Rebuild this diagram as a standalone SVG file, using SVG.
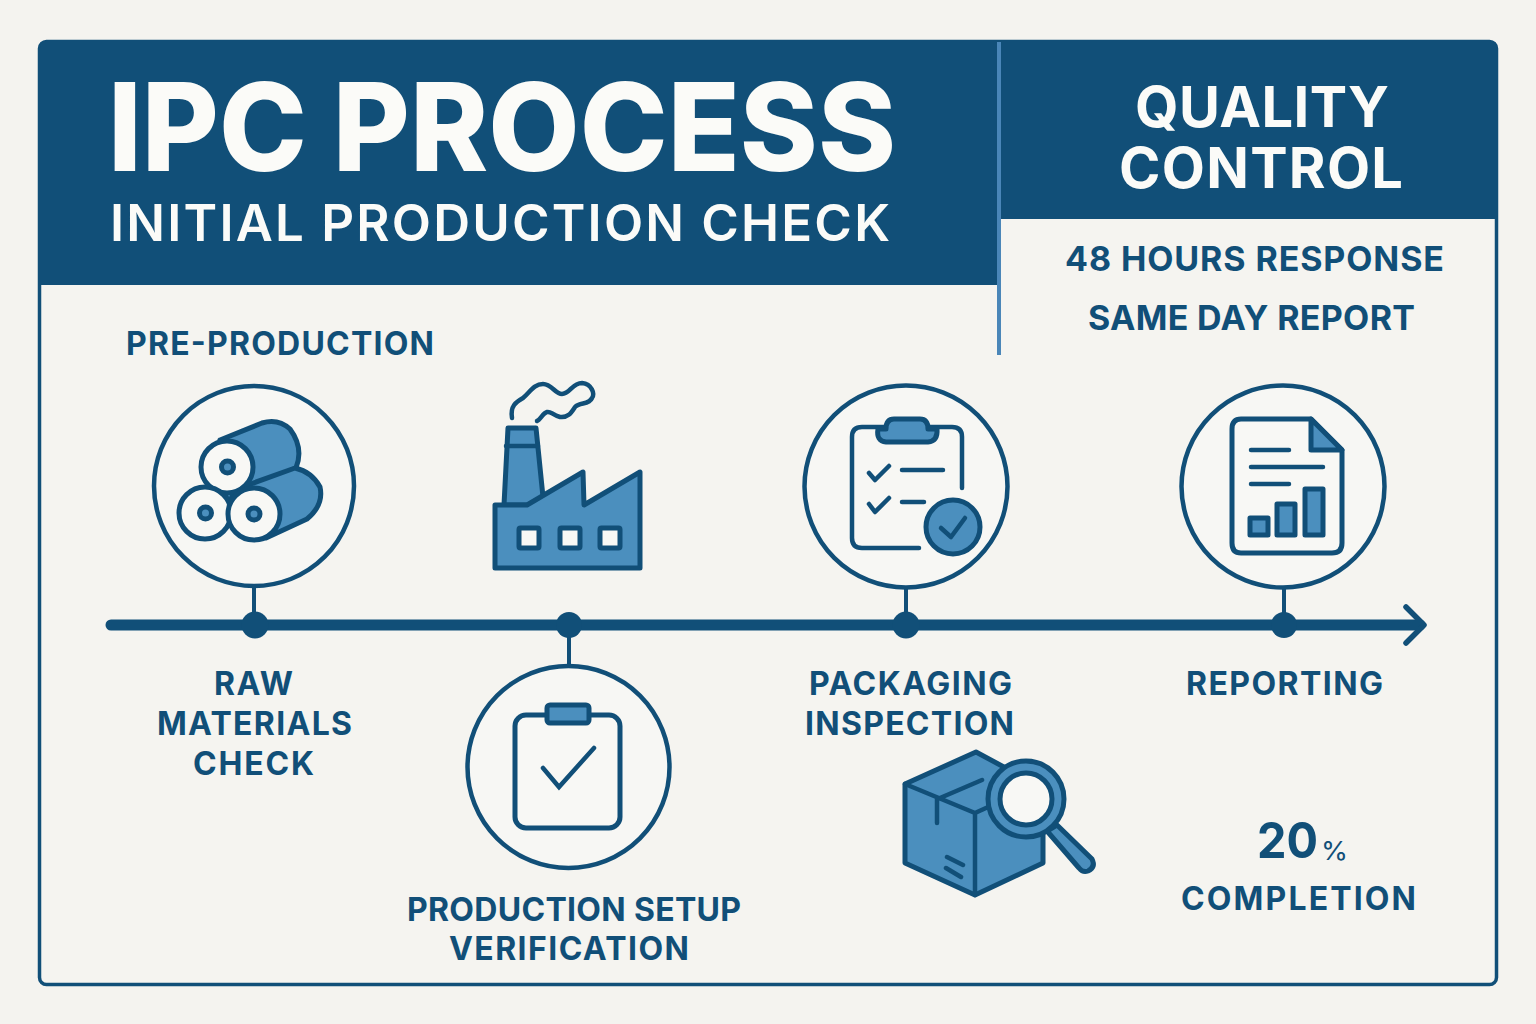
<svg xmlns="http://www.w3.org/2000/svg" width="1536" height="1024" viewBox="0 0 1536 1024">
<style>
.t{font-family:Inter,"Liberation Sans",sans-serif;font-weight:700;fill:#114f78}
.w{fill:#fbfbf8}
.x{font-weight:800}
.s{font-weight:600}
.r{font-weight:400}
.ln{fill:none;stroke:#114f78;stroke-width:4.500;stroke-linecap:round;stroke-linejoin:round}
.ic{fill:#4b8fbe;stroke:#114f78;stroke-width:5;stroke-linejoin:round;stroke-linecap:round}
.wh{fill:#f8f8f5;stroke:#114f78;stroke-width:5;stroke-linejoin:round;stroke-linecap:round}
.o{fill:#f7f7f4;stroke:#114f78;stroke-width:4.500}
</style>
<rect width="1536" height="1024" fill="#f4f3ef"/>
<g id="frame">
<rect x="39.500" y="41.500" width="1457" height="943" rx="7" fill="#f5f4f0" stroke="#114f78" stroke-width="3.500"/>
<path d="M46 41H997V285H40V48Q40 41 46 41Z" fill="#114f78"/>
<path d="M1001 41H1490Q1497 41 1497 48V219H1001Z" fill="#114f78"/>
<path d="M999 42V355" stroke="#4a86b8" stroke-width="4" fill="none"/>
</g>
<g id="header">
<text class="t w x" x="108" y="171" font-size="122" textLength="788" lengthAdjust="spacingAndGlyphs">IPC PROCESS</text>
<text class="t w s" x="110" y="241" font-size="51" textLength="780">INITIAL PRODUCTION CHECK</text>
<text class="t w" x="1135" y="127" font-size="56" textLength="254">QUALITY</text>
<text class="t w" x="1119" y="188" font-size="56" textLength="284">CONTROL</text>
</g>
<g id="stats">
<text class="t" x="1065" y="271" font-size="34" textLength="379">48 HOURS RESPONSE</text>
<text class="t" x="1088" y="330" font-size="34" textLength="327">SAME DAY REPORT</text>
</g>
<text id="phase" class="t" x="126" y="355" font-size="32" textLength="308">PRE-PRODUCTION</text>
<g id="connectors">
<path d="M111 625H1420" stroke="#114f78" stroke-width="11" stroke-linecap="round" fill="none"/>
<path d="M1406 607L1424 625L1406 643" stroke="#114f78" stroke-width="5.500" stroke-linecap="round" stroke-linejoin="round" fill="none"/>
<path d="M254 585V625M569 625V667M906 585V625M1284 585V625" stroke="#114f78" stroke-width="4" fill="none"/>
<circle cx="255" cy="625" r="13.500" fill="#114f78"/>
<circle cx="569" cy="625" r="13" fill="#114f78"/>
<circle cx="906" cy="625" r="13.500" fill="#114f78"/>
<circle cx="1284" cy="625" r="13" fill="#114f78"/>
</g>
<g id="node-raw">
<circle class="o" cx="254" cy="486" r="100"/>
<path class="ic" d="M220 440L262 423Q278 418 290 429Q304 448 296 468L250 490Z"/>
<path class="ic" d="M245 486L295 468Q312 472 320 487Q324 505 307 519L266 538Z"/>
<path class="ic" d="M222 490L236 490L229 502Z" stroke-width="3"/>
<circle class="wh" cx="227" cy="467" r="26"/>
<circle class="wh" cx="205" cy="513" r="26"/>
<circle class="wh" cx="254" cy="514" r="26"/>
<circle class="ic" cx="227.500" cy="467" r="6" stroke-width="4.500"/>
<circle class="ic" cx="205.500" cy="513" r="6" stroke-width="4.500"/>
<circle class="ic" cx="254" cy="514" r="6" stroke-width="4.500"/>
<text class="t" x="214" y="695" font-size="32" textLength="79">RAW</text>
<text class="t" x="157" y="735" font-size="32" textLength="195">MATERIALS</text>
<text class="t" x="193" y="775" font-size="32" textLength="121">CHECK</text>
</g>
<g id="node-setup">
<path class="ic" d="M508 428H536L543 497V505H504Z"/>
<path class="ic" d="M495 505H527L583 472L584 505L640 472V568H495Z"/>
<path class="ln" d="M506 446H538" stroke-width="5"/>
<path class="ln" d="M512 418C510 406 516 402 523 398C530 392 534 384 543 384C552 384 555 394 562 394C570 394 572 383 582 383C592 384 595 394 592 398C589 405 580 402 575 407C571 413 568 418 560 417C552 415 551 411 547 412C543 413 540 420 537 421"/>
<rect class="wh" x="519" y="528" width="20" height="20" rx="1.500"/>
<rect class="wh" x="560" y="528" width="20" height="20" rx="1.500"/>
<rect class="wh" x="600" y="528" width="20" height="20" rx="1.500"/>
</g>
<g id="node-verify">
<circle class="o" cx="568.500" cy="767" r="101"/>
<rect class="wh" x="515" y="715" width="105" height="113" rx="11" stroke-width="4.500"/>
<rect class="ic" x="547" y="705" width="42" height="18" rx="3" stroke-width="4.500"/>
<path d="M543 768L559 787L594 748" fill="none" stroke="#114f78" stroke-width="4.500" stroke-linecap="round" stroke-linejoin="miter"/>
<text class="t" x="407" y="921" font-size="32" textLength="334">PRODUCTION SETUP</text>
<text class="t" x="449" y="960" font-size="32" textLength="240">VERIFICATION</text>
</g>
<g id="node-packaging">
<ellipse class="o" cx="906" cy="486.500" rx="101.500" ry="101"/>
<path class="ln" d="M919 548H862Q852 548 852 538V437Q852 427 862 427H952Q962 427 962 437V488"/>
<path class="ic" d="M878 429Q876 441 886 442H928Q938 441 937 429L928 429Q928 419 920 419H894Q886 419 886 429Z" stroke-width="4.500"/>
<path class="ln" d="M869 473L875 480L889 466M869 504L875 512L889 498M902 470H943M902 502H924"/>
<ellipse class="ic" cx="953" cy="527" rx="27" ry="27"/>
<path d="M941 528L951 537L965 518" fill="none" stroke="#114f78" stroke-width="4.500" stroke-linecap="round" stroke-linejoin="round"/>
<text class="t" x="809" y="695" font-size="32" textLength="203">PACKAGING</text>
<text class="t" x="805" y="735" font-size="32" textLength="209">INSPECTION</text>
<path class="ic" d="M905 784L976 752L1043 788V863L975 895L905 863Z"/>
<path class="ln" d="M905 784L975 813V895M975 813L1043 782M940 798L982 780M937 798V823M947 857L963 865M946 868L961 877" stroke-width="4.500"/>
<path class="ic" d="M1047 831L1057 825L1092 859Q1096 867 1088 871Q1083 873 1079 868Z"/>
<circle class="ic" cx="1026" cy="799" r="38"/>
<circle class="wh" cx="1026" cy="799" r="26"/>
</g>
<g id="node-report">
<ellipse class="o" cx="1283" cy="486.500" rx="101.500" ry="101"/>
<path class="wh" d="M1241 419H1311L1342 450V543Q1342 553 1332 553H1241Q1232 553 1232 543V429Q1232 419 1241 419Z"/>
<path class="ic" d="M1311 419L1342 450H1311Z" stroke-width="4.500"/>
<path class="ln" d="M1251 450H1289M1251 467H1323M1251 484H1289"/>
<rect class="ic" x="1250" y="518" width="18" height="17" stroke-width="4.500"/>
<rect class="ic" x="1277" y="504" width="18" height="31" stroke-width="4.500"/>
<rect class="ic" x="1305" y="489" width="18" height="46" stroke-width="4.500"/>
<text class="t" x="1186" y="695" font-size="32" textLength="197">REPORTING</text>
</g>
<g id="completion">
<text class="t" x="1257" y="858" font-size="50" textLength="61" lengthAdjust="spacingAndGlyphs">20</text>
<text class="t r" x="1321" y="860" font-size="26" textLength="27" lengthAdjust="spacingAndGlyphs">%</text>
<text class="t" x="1181" y="910" font-size="32" textLength="235">COMPLETION</text>
</g>
</svg>
